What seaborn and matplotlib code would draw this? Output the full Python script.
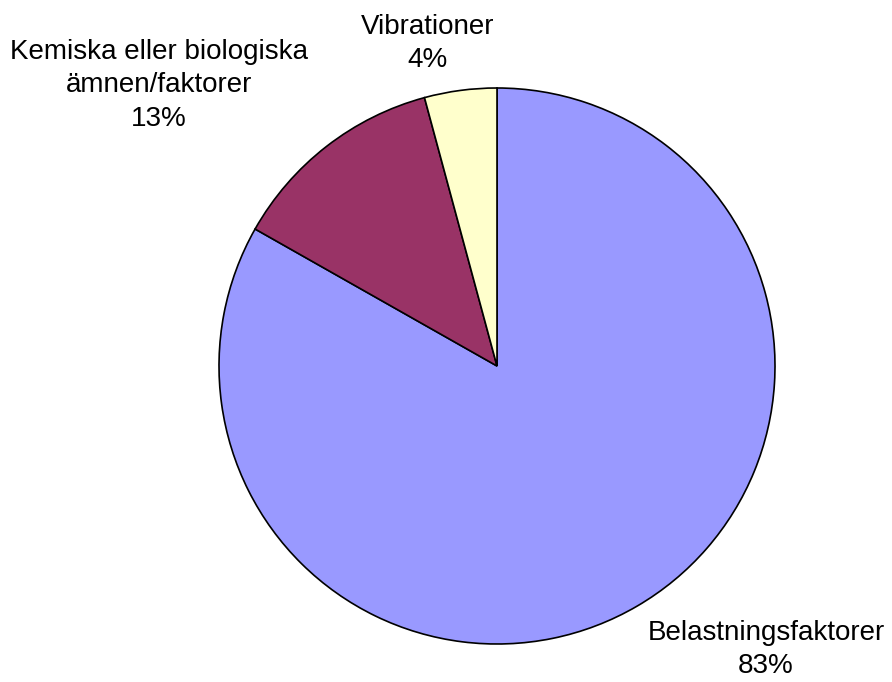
import matplotlib
matplotlib.use('Agg')
import matplotlib.pyplot as plt
import seaborn as sns

# data
categories = ['Belastningsfaktorer', 'Kemiska eller biologiska\nämnen/faktorer', 'Vibrationer']
shares = [83.2, 12.6, 4.2]
pct_labels = ['83%', '13%', '4%']
colors = ['#9999FF', '#993366', '#FFFFCC']

# label placement (pie radius units)
label_pos = [(0.968, -1.02), (-1.215, 1.01), (-0.25, 1.16)]

sns.set_theme(style='white')
plt.rcParams['font.family'] = ['Liberation Sans', 'DejaVu Sans']

fig = plt.figure(figsize=(8.92, 6.82), dpi=100)
ax = fig.add_axes([0, 0, 1, 1])

texts = [f'{c}\n{p}' for c, p in zip(categories, pct_labels)]
wedges, labels = ax.pie(shares, labels=texts, colors=colors, startangle=90,
                        counterclock=False,
                        wedgeprops={'edgecolor': 'black', 'linewidth': 1.2},
                        textprops={'fontsize': 20, 'color': 'black'})

for t, (x, y) in zip(labels, label_pos):
    t.set_position((x, y))
    t.set_ha('center')
    t.set_va('center')
    t.set_linespacing(1.38)

# pie centre at (497, 366) px, radius 278 px
cx, cy, r = 497, 366, 278
ax.set_xlim(-cx / r, (892 - cx) / r)
ax.set_ylim(-(682 - cy) / r, cy / r)
ax.set_aspect('equal')
ax.axis('off')

fig.savefig('out.png', dpi=100, facecolor='white')
